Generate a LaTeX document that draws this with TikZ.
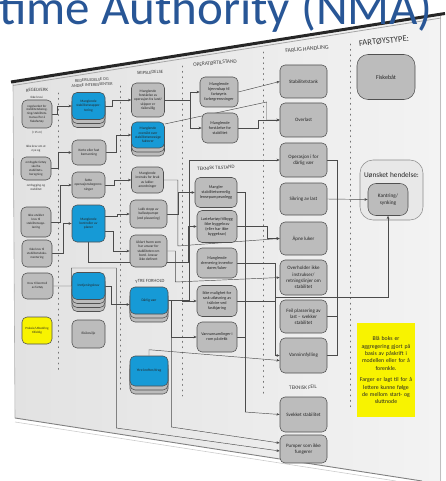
\documentclass[tikz,border=0pt]{standalone}
\usepackage{fontspec}
\setmainfont{Carlito}
\usetikzlibrary{arrows.meta,calc}
\definecolor{titleblue}{RGB}{40,86,150}
\definecolor{nodegray}{RGB}{188,188,188}
\definecolor{edgegray}{RGB}{80,80,80}
\definecolor{boxblue}{RGB}{22,154,214}
\definecolor{noteyellow}{RGB}{248,243,0}
\definecolor{boardleft}{RGB}{226,226,226}
\definecolor{boardright}{RGB}{243,243,243}
\definecolor{wire}{RGB}{75,75,75}
\pgfdeclarelayer{board}
\pgfdeclarelayer{back}
\pgfdeclarelayer{wires}
\pgfsetlayers{board,back,wires,main}
\newcommand\fsz[2]{\fontsize{#1}{#2}\selectfont}
\tikzset{
  nd/.style={draw=edgegray, line width=0.55pt, rounded corners=5pt, align=center, inner sep=0.8pt, text=black!85},
  gbox/.style={nd, fill=nodegray},
  bbox/.style={nd, fill=boxblue},
  wh/.style 2 args={minimum width=#1pt, minimum height=#2pt},
  c1/.style={font=\fsz{3.2}{3.9}},
  c2/.style={font=\fsz{3.5}{4.2}},
  c3/.style={font=\fsz{3.6}{4.3}},
  c4/.style={font=\fsz{4.2}{5.0}},
  c5/.style={font=\fsz{5.0}{6.2}},
  txtone/.style={font=\fsz{3.2}{3.9}, align=center, inner sep=0, text=black!80},
  hdr/.style={align=center, inner sep=0, text=black!75},
  sep/.style={draw=black!55, line width=0.9pt, dash pattern=on 0.9pt off 4.5pt, line cap=round},
  wirestyle/.style={draw=wire, line width=0.45pt},
  arr/.style={wirestyle, -{Stealth[length=3.2pt,width=2.6pt]}},
}
\newcommand\stacklayers[5]{\foreach \k in {#5,...,1}{\node[gbox, minimum width=#3pt, minimum height=#4pt] at (#1,{#2+4*\k}) {};}}
\begin{document}
\begin{tikzpicture}[x=1pt,y=-1pt]
\useasboundingbox (0,0) rectangle (445,481);

% ---------- title ----------
\node[anchor=base east, inner sep=0, font=\fsz{49}{50}, text=titleblue] (title) at (433,25) {time Authority (NMA)};

% ---------- board ----------
\begin{pgfonlayer}{board}
\shade[left color=boardleft, right color=boardright] (13,83) -- (441,16) -- (441,481) -- (422,481) -- (15,418) -- cycle;
\draw[black!30, line width=0.6pt] (13,83) -- (15,418);
\draw[black!50, line width=0.9pt] (15,418) -- (422,481);
\draw[black!20, line width=0.6pt] (15,422) -- (396,481);
\draw[black!25, line width=0.8pt] (440,16) -- (440,481);
\draw[black!85, line width=3pt] (11,82) -- (445,13.5);
\draw[black!35, line width=0.8pt] (13,85.5) -- (441,18);
\draw[sep] (58,93) -- (58,372);
\draw[sep] (120,86) -- (120,390);
\draw[sep] (182,66) -- (182,396);
\draw[sep] (263,52) -- (263,394);
\draw[sep] (350,44) -- (350,410);
\end{pgfonlayer}

% ---------- column 1 ----------
\node[hdr, font=\fsz{4.8}{5.5}, rotate=3] (h1) at (37,90) {REGELVERK};
\node[txtone] (r1a) at (37,97.5) {Ikke krav i};
\node[gbox, c1, wh={30}{28}] (r1) at (37,114) {regelverket for\\stabilitetsbereg-\\ning/stabilitets-\\manual for å\\fiskefartøy};
\node[txtone] (r1b) at (37,133) {(<15 m)};
\node[txtone] (r2a) at (36,149) {Ikke krav om at\\nye og};
\node[gbox, c1, wh={30}{23}] (r2) at (36,168.5) {ombygde fartøy\\skal ha\\stabilitets-\\beregning};
\node[txtone] (r2b) at (36,187) {ombygging og\\stabilitet};
\node[gbox, c1, wh={30}{30}] (r3) at (36,222) {Ikke utviklet\\krav til\\stabilitetsopp-\\læring};
\node[gbox, c1, wh={30}{27}] (r4) at (37,253.5) {Ikke krav til\\stabilitetsdoku-\\mentering};
\node[gbox, c1, wh={31}{26}] (r5) at (37.5,286) {Krav til kontroll\\av fartøy};
\node[gbox, c1, wh={30}{27}, fill=noteyellow] (r6) at (37,330.5) {Praksis/Utbedring\\tilfeldig};

% ---------- column 2 ----------
\node[hdr, font=\fsz{4.3}{5}, rotate=3] (h2) at (92,82.5) {REDERILEDELSE OG\\ANDRE INTERESSENTER};
\stacklayers{88.5}{106}{33}{27}{2}
\node[bbox, c2, wh={33}{27}] (b1) at (88.5,106) {Manglende\\stabilitetsrappor-\\tering};
\node[gbox, c2, wh={34}{25}] (b2) at (89,152.5) {Korte eller fast\\bemanning};
\node[gbox, c2, wh={33}{26}] (b3) at (88.5,185) {Sette\\operasjonsbegrens-\\ninger};
\node[bbox, c2, wh={33}{37}] (b4) at (88.5,223.5) {Manglende\\kontroller av\\planer};
\stacklayers{88.5}{286}{33}{27}{3}
\node[bbox, c2, wh={33}{27}] (b5) at (88.5,286) {Inntjeningskrav};
\node[gbox, c2, wh={33}{28}] (b6) at (88.5,334) {Risikovilje};

% ---------- column 3 ----------
\node[hdr, font=\fsz{4.7}{5.5}, rotate=4] (h3) at (150,72.5) {SKIPSLEDELSE};
\node[gbox, c3, wh={33}{34}] (s1) at (148,100) {Manglende\\forståelse av\\operasjon fra land/\\skipper er\\risikovillig};
\stacklayers{148}{135}{33}{26}{2}
\node[bbox, c3, wh={33}{26}] (s2) at (148,135) {Manglende\\oversikt over\\stabilitetsmessige\\faktorer};
\node[gbox, c3, wh={32}{26}] (s3) at (147.5,180) {Manglende\\instruks for bruk\\av lukke-\\anordninger};
\node[gbox, c3, wh={37}{28}] (s4) at (148.5,214) {Lukk stopp av\\ballastpumpe\\(ved plassering)};
\node[gbox, c3, wh={37}{32}] (s5) at (148.5,251) {Uklart hvem som\\har ansvar for\\stabiliteten om\\bord. Ansvar\\ikke definert};
\node[hdr, font=\fsz{4.7}{5.5}, rotate=2] (h4) at (150,281) {YTRE FORHOLD};
\stacklayers{149}{300.5}{38}{27}{2}
\node[bbox, c3, wh={38}{27}] (s6) at (149,300.5) {Dårlig vær};
\stacklayers{149}{371}{38}{30}{2}
\node[bbox, c3, wh={38}{30}] (s7) at (149,371) {Ytre krefter/drag};

% ---------- column 4 ----------
\node[hdr, font=\fsz{5.3}{6}, rotate=5] (h5) at (215,63) {OPERATØRTILSTAND};
\node[gbox, c4, wh={38}{30}] (o1) at (219,92) {Manglende\\kjennskap til\\fartøyets\\farbegrensninger};
\node[gbox, c4, wh={36}{30}] (o2) at (220,128) {Manglende\\forståelse for\\stabilitet};
\node[hdr, font=\fsz{5}{6}, rotate=3] (h6) at (216,168) {TEKNISK TILSTAND};
\node[gbox, c4, wh={42}{30}] (t1) at (216,192.5) {Mangler\\stabilitetsvennlig\\lensepumpeanlegg};
\node[gbox, c4, wh={40}{32}] (t2) at (217,226.5) {Lastefartøy/tilbygg\\ikke byggekrav\\(eller har ikke\\byggekrav)};
\node[gbox, c4, wh={40}{30}] (t3) at (217,263) {Manglende\\drenering innenfor\\dører/luker};
\node[gbox, c4, wh={40}{31}] (t4) at (217,301) {Ikke mulighet for\\rask utløsning av\\trålvire ved\\fastkjøring};
\node[gbox, c4, wh={40}{30}] (t5) at (217,337) {Vannansamlinger i\\rom på dekk};

% ---------- column 5 ----------
\node[hdr, font=\fsz{5.8}{7}, rotate=5] (h7) at (307,49) {FARLIG HANDLING};
\node[gbox, c5, wh={47}{33}] (f1) at (303.5,81.5) {Stabilitetstank};
\node[gbox, c5, wh={47}{34}] (f2) at (303.5,120) {Overlast};
\node[gbox, c5, wh={47}{34}] (f3) at (303.5,160) {Operasjon i for\\dårlig vær};
\node[gbox, c5, wh={47}{32}] (f4) at (303.5,199) {Sikring av last};
\node[gbox, c5, wh={47}{33}] (f5) at (303.5,238.5) {Åpne luker};
\node[gbox, c5, wh={47}{35}] (f6) at (303.5,277.5) {Overholder ikke\\instrukser/\\retningslinjer om\\stabilitet};
\node[gbox, c5, wh={47}{33}] (f7) at (303.5,316.5) {Feil plassering av\\last – svekker\\stabilitet};
\node[gbox, c5, wh={47}{35}] (f8) at (303.5,355.5) {Vanninnfylling};
\node[hdr, font=\fsz{5.3}{6}, rotate=2] (h8) at (303,387.5) {TEKNISK FEIL};
\node[gbox, c5, wh={47}{35}] (f9) at (303.5,414.5) {Svekket stabilitet};
\node[gbox, c5, wh={47}{28}] (f10) at (303.5,449) {Pumper som ikke\\fungerer};

% ---------- column 6 ----------
\node[hdr, font=\fsz{8.6}{10}, rotate=6, text=black!80] (h9) at (384,41) {FARTØYSTYPE:};
\node[gbox, wh={58}{45}, rounded corners=11pt, font=\fsz{6}{7}] (fisk) at (386,77) {Fiskebåt};
\begin{pgfonlayer}{back}
\node[nd, fill=black!9, draw=black!45, wh={63}{60}, rounded corners=13pt] (uh) at (391.5,190) {};
\end{pgfonlayer}
\node[font=\fsz{7.3}{8}, text=black!85, inner sep=0] (uht) at (391.5,175.5) {Uønsket hendelse:};
\node[gbox, wh={40}{32}, rounded corners=8pt, font=\fsz{5.3}{6.5}] (kant) at (388,199.5) {Kantring/\\synking};
\node[fill=noteyellow, wh={58}{94}, inner sep=1pt, text width=55pt, align=center, anchor=north, font=\fsz{5.8}{7.4}, text=black!85] (note) at (386,323) {Blå boks er\\aggregering gjort på\\basis av påskrift i\\modellen eller for å\\forenkle.\\[4pt]Farger er lagt til for å\\lettere kunne følge\\de mellom start- og\\sluttnode};

% ---------- connectors ----------
\begin{pgfonlayer}{wires}
\draw[arr] (r1.east) -- ++(5,0) |- (b1.west);
\draw[arr] (r2.east) -- ++(7,0) |- (b2.west);
\draw[arr] (r3.east) -- ++(9,0) |- (b3.west);
\draw[arr] (r4.east) -- ++(11,0) |- (b4.west);
\draw[arr] (r5.east) -- ++(18,0) -- ++(0,-18) -- ++(45,0) -- ++(0,160) -- ([yshift=-2pt]f10.west);

\draw[arr] (b1.east) -- ++(7,0) |- (s1.west);
\draw[arr] (b2.east) -- ++(10,0) |- (s2.west);
\draw[arr] (b3.east) -- ++(9,0) |- (s3.west);
\draw[arr] ([yshift=7pt]b4.east) -- ++(12,0) |- (s4.west);
\draw[arr] ([yshift=-8pt]b4.east) -- ++(8,0) |- (s5.west);
\draw[arr] (b4.south) -- ++(0,20) -- ++(99.5,0) |- (t2.west);
\draw[arr] (b5.east) -- ++(6,0) |- ([yshift=-4pt]s6.west);

\draw[arr] (s1.east) -- ++(25.5,0) |- (o1.west);
\draw[arr] (s1.east) -- ++(25.5,0) |- (o2.west);
\draw[arr] ([yshift=11pt]s2.east) -- ($(f2.west)+(-13,-18)$) |- (f2.west);
\draw[arr] (o1.east) -- (f1.west);
\draw[arr] (o2.east) -- ++(20,0) |- (f2.west);
\draw[arr] (s3.east) -- ++(14,0) -- ++(0,66) -- (f5.west);
\draw[arr] (s4.east) -- ++(11,0) |- (t1.west);
\draw[arr] (s5.east) -- ++(8,0) -- ++(0,31) -- (f6.west);
\draw[arr] (s6.east) -- ++(14,0) |- (t4.west);
\draw[arr] (s6.east) -- ++(3,0) |- (t5.west);
\draw[arr] (s6.east) -- ++(3,0) -- ++(0,126.5) -- ([yshift=6pt]f10.west);
\draw[arr] (s6.east) -- ++(21,0) |- (f3.west);
\draw[arr] (s7.north) -- ++(0,-6) -- ([yshift=-5pt]f8.west);

\coordinate (tb) at (245,412);
\draw[wirestyle] (t1.east) -| (tb);
\draw[wirestyle] (t2.east) -| (tb);
\draw[wirestyle] (t3.east) -| (tb);
\draw[wirestyle] (t4.east) -| (tb);
\draw[wirestyle] (t5.east) -| (tb);
\draw[arr] (tb) -- (f9.west);
\draw[arr] (t2.east) -- ++(30,0) |- (f5.west);
\draw[arr] (t3.east) -- ++(38,0) |- (f8.west);
\draw[arr] (t4.east) -- ++(38,0) -- ++(0,-4) -| (kant.south);

\coordinate (fb) at ($(f4.east)!0.24!(kant.west)$);
\draw[arr] (f4.east) -- (kant.west);
\draw[wirestyle] (f3.east) -| (fb);
\draw[wirestyle] (f7.east) -| (fb);
\draw[wirestyle] (f8.east) -| (fb);
\end{pgfonlayer}
\end{tikzpicture}
\end{document}
